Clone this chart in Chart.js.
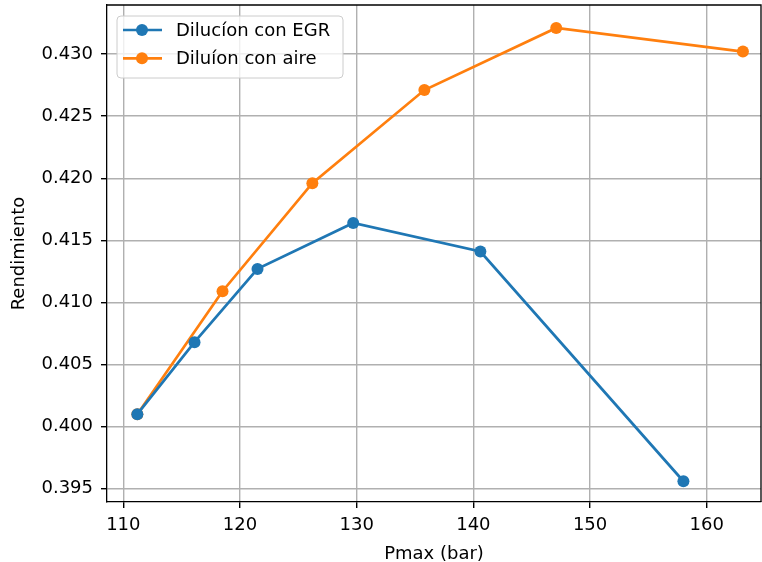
<!DOCTYPE html>
<html>
<head>
<meta charset="utf-8">
<script src="https://cdn.jsdelivr.net/npm/chart.js@4/dist/chart.umd.min.js"></script>
<style>
  html, body { margin: 0; padding: 0; background: #ffffff; }
  canvas { display: block; }
</style>
</head>
<body>
<canvas id="chart" width="762" height="562"></canvas>
<script>
// Pmax (bar) and efficiency for each dilution strategy
const egrPmax = [111.2, 116.1, 121.5, 129.7, 140.6, 158.0];
const egrRend = [0.4010, 0.4068, 0.4127, 0.4164, 0.4141, 0.3956];
const airePmax = [111.2, 118.5, 126.2, 135.8, 147.1, 163.1];
const aireRend = [0.4010, 0.4109, 0.4196, 0.4271, 0.4321, 0.4302];

const seriesLabels = ['Dilucíon con EGR', 'Diluíon con aire'];
const xTicks = [110, 120, 130, 140, 150, 160];
const yTicks = [0.395, 0.400, 0.405, 0.410, 0.415, 0.420, 0.425, 0.430];

const FONT = 'DejaVu Sans';
const BLUE = '#1f77b4';
const ORANGE = '#ff7f0e';

const toPoints = (xs, ys) => xs.map((x, i) => ({ x: x, y: ys[i] }));

function lineDataset(label, xs, ys, color) {
  return {
    label: label,
    data: toPoints(xs, ys),
    showLine: true,
    borderColor: color,
    backgroundColor: color,
    borderWidth: 2.7,
    pointRadius: 6,
    pointHoverRadius: 6,
    pointBorderWidth: 0,
    pointBackgroundColor: color,
    tension: 0
  };
}

// Top and right frame lines of the axes box
const frame = {
  id: 'frame',
  afterDatasetsDraw(chart) {
    const { ctx, chartArea: a } = chart;
    ctx.save();
    ctx.strokeStyle = '#000';
    ctx.lineWidth = 1.3;
    ctx.beginPath();
    ctx.moveTo(a.left, a.top);
    ctx.lineTo(a.right, a.top);
    ctx.lineTo(a.right, a.bottom);
    ctx.stroke();
    ctx.restore();
  }
};

// Framed legend in the upper-left corner of the plot
const boxLegend = {
  id: 'boxLegend',
  afterDraw(chart) {
    const { ctx, chartArea: a } = chart;
    const x0 = a.left + 10, y0 = a.top + 11;
    const w = 226, h = 62, r = 4;
    ctx.save();
    ctx.beginPath();
    ctx.roundRect(x0, y0, w, h, r);
    ctx.fillStyle = 'rgba(255,255,255,0.8)';
    ctx.fill();
    ctx.strokeStyle = '#cccccc';
    ctx.lineWidth = 1;
    ctx.stroke();
    ctx.font = '18px "' + FONT + '"';
    ctx.textBaseline = 'middle';
    chart.data.datasets.forEach((ds, i) => {
      const cy = y0 + 14 + i * 28.3;
      ctx.strokeStyle = ds.borderColor;
      ctx.lineWidth = 2.7;
      ctx.beginPath();
      ctx.moveTo(x0 + 6, cy);
      ctx.lineTo(x0 + 45, cy);
      ctx.stroke();
      ctx.fillStyle = ds.borderColor;
      ctx.beginPath();
      ctx.arc(x0 + 25, cy, 6, 0, Math.PI * 2);
      ctx.fill();
      ctx.fillStyle = '#000';
      ctx.fillText(ds.label, x0 + 59, cy + 1);
    });
    ctx.restore();
  }
};

new Chart(document.getElementById('chart'), {
  type: 'scatter',
  data: {
    datasets: [
      lineDataset(seriesLabels[0], egrPmax, egrRend, BLUE),
      lineDataset(seriesLabels[1], airePmax, aireRend, ORANGE)
    ]
  },
  options: {
    responsive: false,
    animation: false,
    layout: { autoPadding: false, padding: { top: 5, right: 1, left: 0, bottom: 0 } },
    plugins: {
      legend: { display: false },
      tooltip: { enabled: false }
    },
    scales: {
      x: {
        type: 'linear',
        position: 'bottom',
        min: 108.6,
        max: 164.65,
        afterBuildTicks: (s) => { s.ticks = xTicks.map(v => ({ value: v })); },
        afterFit: (s) => { s.height = 60; s.paddingLeft = 0; s.paddingRight = 0; },
        grid: { color: '#b0b0b0', lineWidth: 1.4, tickColor: '#000', tickLength: 6, drawTicks: true },
        border: { display: true, color: '#000', width: 1.3 },
        ticks: {
          color: '#000',
          font: { family: FONT, size: 18 },
          padding: 7,
          maxRotation: 0,
          callback: (v) => String(v)
        },
        title: {
          display: true,
          text: 'Pmax (bar)',
          color: '#000',
          font: { family: FONT, size: 18 },
          padding: { top: 0, bottom: -3 }
        }
      },
      y: {
        type: 'linear',
        min: 0.39393,
        max: 0.43395,
        afterBuildTicks: (s) => { s.ticks = yTicks.map(v => ({ value: v })); },
        afterFit: (s) => { s.width = 107; s.paddingTop = 0; s.paddingBottom = 0; },
        grid: { color: '#b0b0b0', lineWidth: 1.4, tickColor: '#000', tickLength: 6, drawTicks: true },
        border: { display: true, color: '#000', width: 1.3 },
        ticks: {
          color: '#000',
          font: { family: FONT, size: 18 },
          padding: 8,
          callback: (v) => v.toFixed(3)
        },
        title: {
          display: true,
          text: 'Rendimiento',
          color: '#000',
          font: { family: FONT, size: 18 },
          padding: { top: 9, bottom: 0 }
        }
      }
    }
  },
  plugins: [frame, boxLegend]
});
</script>
</body>
</html>
